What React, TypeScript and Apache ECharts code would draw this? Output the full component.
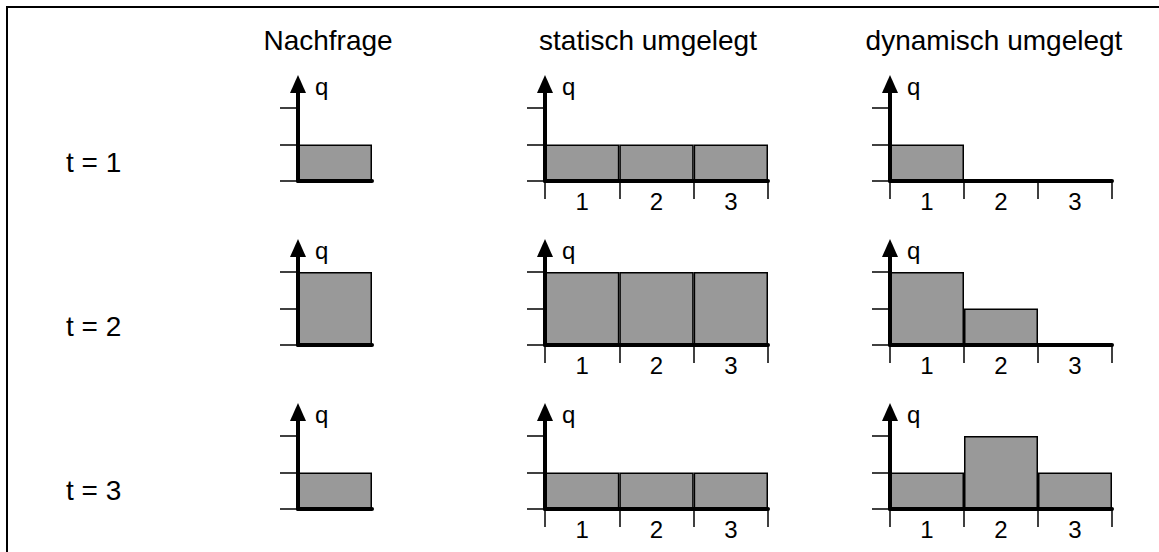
import React, { useEffect, useRef } from "react";
import * as echarts from "echarts";

// ---- data ----
const columnTitles = ["Nachfrage", "statisch umgelegt", "dynamisch umgelegt"];
const rowLabels = ["t = 1", "t = 2", "t = 3"];
const periods = ["1", "2", "3"];
const demand = [1, 2, 1];
const staticAllocation = [
  [1, 1, 1],
  [2, 2, 2],
  [1, 1, 1],
];
const dynamicAllocation = [
  [1, 0, 0],
  [2, 1, 0],
  [1, 2, 1],
];
const yTickValues = [0, 1, 2];
const axisName = "q";

// ---- layout ----
const FONT = "'Liberation Sans', Arial, sans-serif";
const BASE0 = 181;
const ROW_STEP = 164;
const UNIT = 36.5;
const AXIS_H = 97;
const YMAX = AXIS_H / UNIT;
const colLayout = [
  { left: 298, width: 74 },
  { left: 545, width: 223 },
  { left: 890, width: 222 },
];
const titleX = [328, 648, 994];
const titleY = 40;
const rowLabelX = 66;
const rowLabelDy = -19;

export default function App() {
  const ref = useRef<HTMLDivElement>(null);
  useEffect(() => {
    if (!ref.current) return;
    const chart = echarts.init(ref.current, undefined, { renderer: "svg" });

    const grids: any[] = [];
    const xAxes: any[] = [];
    const yAxes: any[] = [];
    const series: any[] = [];

    rowLabels.forEach((_, r) => {
      const base = BASE0 + r * ROW_STEP;
      const panels = [[demand[r]], staticAllocation[r], dynamicAllocation[r]];
      panels.forEach((vals, c) => {
        const idx = grids.length;
        grids.push({
          left: colLayout[c].left,
          width: colLayout[c].width,
          top: base - AXIS_H,
          height: AXIS_H,
          containLabel: false,
        });
        const isDemand = c === 0;
        xAxes.push({
          type: "category",
          gridIndex: idx,
          data: isDemand ? ["1"] : periods,
          boundaryGap: true,
          z: 5,
          axisLine: { show: true, lineStyle: { color: "#000", width: 4 } },
          axisTick: {
            show: !isDemand,
            length: 18,
            interval: 0,
            lineStyle: { color: "#000", width: 1.5 },
          },
          axisLabel: {
            show: !isDemand,
            fontSize: 24,
            fontFamily: FONT,
            color: "#000",
            margin: 8,
          },
          splitLine: { show: false },
        });
        yAxes.push({
          type: "value",
          gridIndex: idx,
          min: 0,
          max: YMAX,
          z: 5,
          name: axisName,
          nameLocation: "end",
          nameGap: -2,
          nameTextStyle: {
            fontSize: 24,
            fontFamily: FONT,
            color: "#000",
            align: "left",
            verticalAlign: "middle",
            padding: [0, 0, 0, 17],
          },
          axisLine: {
            show: true,
            lineStyle: { color: "#000", width: 4 },
            symbol: ["none", "triangle"],
            symbolSize: [16, 18],
          },
          axisTick: {
            show: true,
            length: 18,
            customValues: yTickValues,
            lineStyle: { color: "#000", width: 1.5 },
          },
          axisLabel: { show: false },
          splitLine: { show: false },
        });
        series.push({
          type: "bar",
          xAxisIndex: idx,
          yAxisIndex: idx,
          data: vals,
          barCategoryGap: "0%",
          itemStyle: { color: "#999999", borderColor: "#000", borderWidth: 1.5 },
          silent: true,
        });
      });
    });

    const graphic: any[] = [
      {
        type: "rect",
        shape: { x: 7, y: 7, width: 1200, height: 600 },
        style: { fill: "none", stroke: "#000", lineWidth: 2 },
        z: 10,
      },
    ];
    columnTitles.forEach((t, i) => {
      graphic.push({
        type: "text",
        x: titleX[i],
        y: titleY,
        style: {
          text: t,
          fontSize: 28,
          fontFamily: FONT,
          fill: "#000",
          textAlign: "center",
          textVerticalAlign: "middle",
        },
      });
    });
    rowLabels.forEach((t, r) => {
      graphic.push({
        type: "text",
        x: rowLabelX,
        y: BASE0 + r * ROW_STEP + rowLabelDy,
        style: {
          text: t,
          fontSize: 28,
          fontFamily: FONT,
          fill: "#000",
          textAlign: "left",
          textVerticalAlign: "middle",
        },
      });
    });

    chart.setOption({
      animation: false,
      backgroundColor: "#fff",
      grid: grids,
      xAxis: xAxes,
      yAxis: yAxes,
      series,
      graphic,
    });
    return () => chart.dispose();
  }, []);
  return (
    <div
      ref={ref}
      style={{ position: "fixed", left: 0, top: 0, width: 1159, height: 552 }}
    />
  );
}
